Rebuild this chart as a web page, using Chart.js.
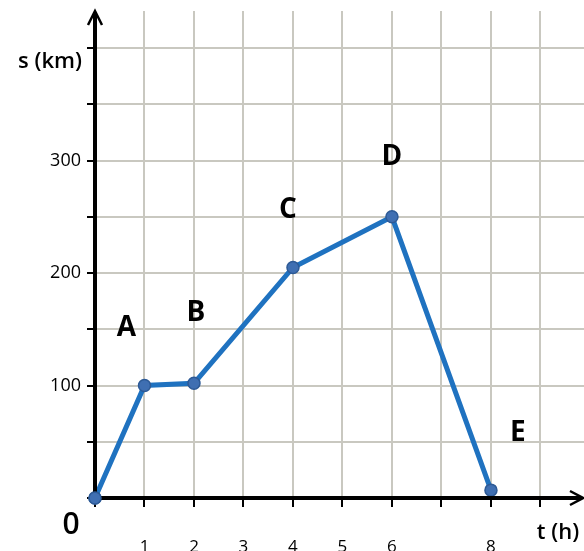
<!DOCTYPE html>
<html>
<head>
<meta charset="utf-8">
<script src="https://cdn.jsdelivr.net/npm/chart.js@4/dist/chart.umd.min.js"></script>
<style>
  html, body { margin: 0; padding: 0; background: #fff; }
  #wrap { width: 584px; height: 551px; position: relative; }
</style>
</head>
<body>
<div id="wrap"><canvas id="myChart" width="584" height="551"></canvas></div>
<script>
// data
const times = [0, 1, 2, 4, 6, 8];
const distances = [0, 100, 102, 205, 250, 7];
const pointNames = ['', 'A', 'B', 'C', 'D', 'E'];
const xTickLabels = [1, 2, 3, 4, 5, 6, 8];
const yTickLabels = [100, 200, 300];

const FONT = "'Open Sans', 'Noto Sans', sans-serif";

// letter offsets from each point, in px
const nameOffsets = [[0, 0], [-18, -57], [2, -70], [-5, -57], [0, -60], [27, -57]];

const axesPlugin = {
    id: 'axesPlugin',
    afterDatasetsDraw(chart) {
        const ctx = chart.ctx;
        const x = chart.scales.x;
        const y = chart.scales.y;
        const ox = x.getPixelForValue(0);
        const oy = y.getPixelForValue(0);
        ctx.save();
        ctx.strokeStyle = '#000';
        ctx.lineWidth = 4;
        ctx.lineCap = 'butt';
        ctx.beginPath();
        ctx.moveTo(ox, oy + 2);
        ctx.lineTo(ox, 12);
        ctx.moveTo(ox - 2, oy);
        ctx.lineTo(581, oy);
        ctx.stroke();
        // arrow heads
        ctx.lineWidth = 2.5;
        ctx.beginPath();
        ctx.moveTo(ox - 7, 25);
        ctx.lineTo(ox, 11);
        ctx.lineTo(ox + 7, 25);
        ctx.moveTo(570, oy - 7);
        ctx.lineTo(583, oy);
        ctx.lineTo(570, oy + 7);
        ctx.stroke();

        // redraw origin point on top of axes
        const meta = chart.getDatasetMeta(0);
        const p0 = meta.data[0];
        ctx.fillStyle = '#3f6fb2';
        ctx.strokeStyle = '#2d5a96';
        ctx.lineWidth = 1.5;
        ctx.beginPath();
        ctx.arc(p0.x, p0.y, 6, 0, Math.PI * 2);
        ctx.fill();
        ctx.stroke();

        // point names
        ctx.fillStyle = '#000';
        ctx.font = 'bold 28px ' + FONT;
        ctx.textAlign = 'center';
        ctx.textBaseline = 'middle';
        meta.data.forEach((pt, i) => {
            if (!pointNames[i]) return;
            ctx.fillText(pointNames[i], pt.x + nameOffsets[i][0], pt.y + nameOffsets[i][1]);
        });

        // axis titles and origin
        ctx.font = '600 22px ' + FONT;
        ctx.fillText('s (km)', 50, 62);
        ctx.fillText('t (h)', 558, 533);
        ctx.font = '600 30px ' + FONT;
        ctx.fillText('0', 71, 525);
        ctx.restore();
    }
};

const ctx = document.getElementById('myChart').getContext('2d');
const myChart = new Chart(ctx, {
    type: 'scatter',
    data: {
        datasets: [{
            data: times.map((t, i) => ({ x: t, y: distances[i] })),
            showLine: true,
            borderColor: '#1f72c0',
            borderWidth: 5,
            pointRadius: 6,
            pointBackgroundColor: '#3f6fb2',
            pointBorderColor: '#2d5a96',
            pointBorderWidth: 1.5,
            clip: false
        }]
    },
    options: {
        responsive: false,
        animation: false,
        layout: { autoPadding: false, padding: { top: 11, right: 0, left: 0, bottom: 0 } },
        plugins: {
            legend: { display: false },
            tooltip: { enabled: false }
        },
        scales: {
            x: {
                type: 'linear',
                min: 0,
                max: 9.88,
                afterFit: (scale) => {
                    scale.height = 53;
                    scale.paddingLeft = 0;
                    scale.paddingRight = 0;
                },
                afterBuildTicks: (scale) => {
                    scale.ticks = [0, 1, 2, 3, 4, 5, 6, 7, 8, 9].map(v => ({ value: v }));
                },
                border: { display: false },
                grid: {
                    color: '#c9c8c0',
                    lineWidth: 2,
                    tickColor: '#000',
                    tickLength: 9,
                    tickWidth: 2
                },
                ticks: {
                    padding: 30,
                    maxRotation: 0,
                    autoSkip: false,
                    color: '#000',
                    font: { family: FONT, size: 17, weight: '500' },
                    callback: (v) => xTickLabels.includes(v) ? String(v) : ''
                }
            },
            y: {
                type: 'linear',
                min: 0,
                max: 433,
                afterFit: (scale) => {
                    scale.width = 95;
                    scale.paddingTop = 0;
                    scale.paddingBottom = 0;
                },
                afterBuildTicks: (scale) => {
                    scale.ticks = [0, 50, 100, 150, 200, 250, 300, 350, 400].map(v => ({ value: v }));
                },
                border: { display: false },
                grid: {
                    color: '#c9c8c0',
                    lineWidth: 2,
                    tickColor: '#000',
                    tickLength: 8,
                    tickWidth: 2
                },
                ticks: {
                    padding: 6,
                    color: '#000',
                    font: { family: FONT, size: 18, weight: '500' },
                    callback: (v) => yTickLabels.includes(v) ? String(v) : ''
                }
            }
        }
    },
    plugins: [axesPlugin]
});
</script>
</body>
</html>
